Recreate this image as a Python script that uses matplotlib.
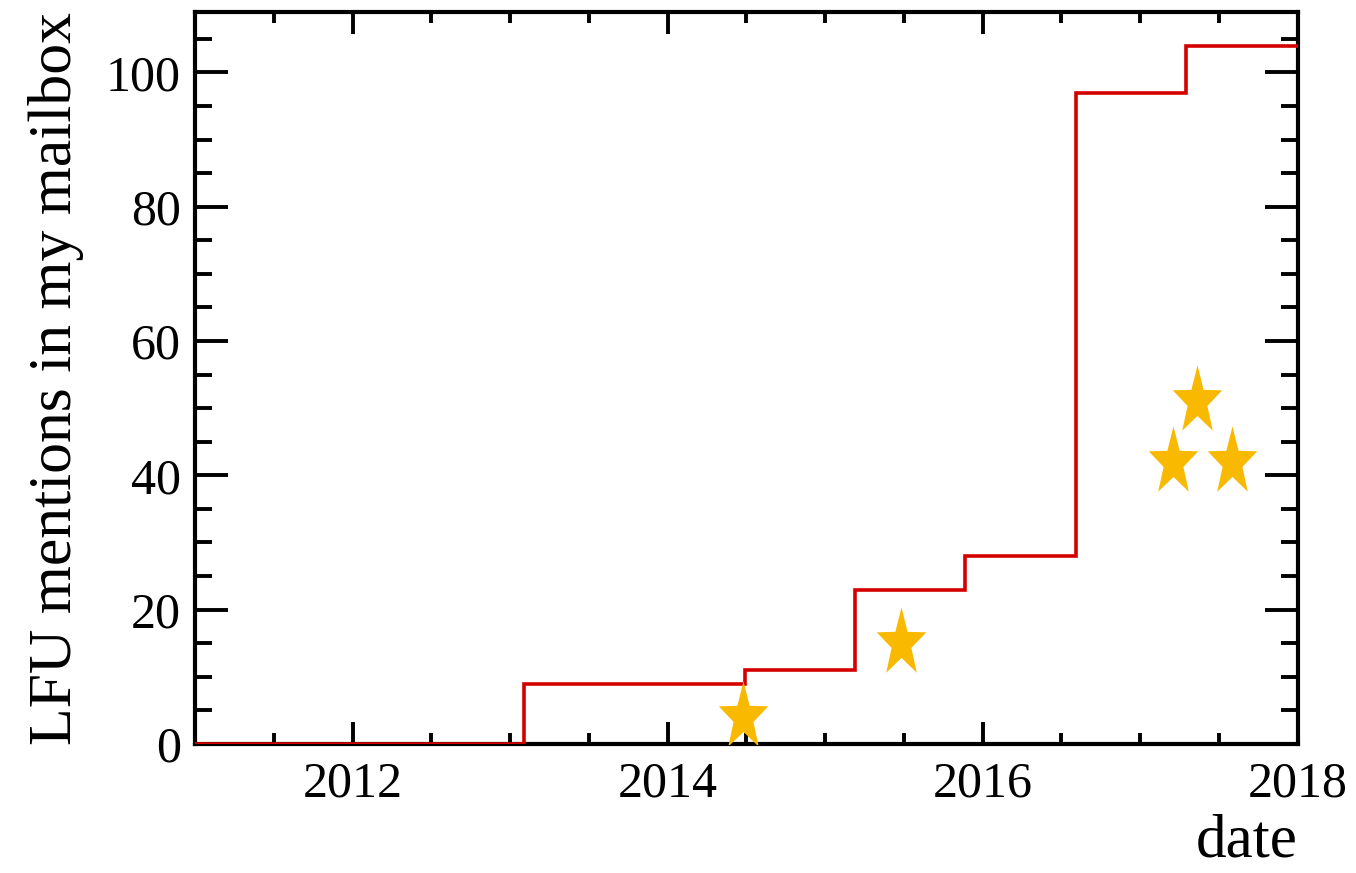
import numpy as np
import matplotlib
matplotlib.use('Agg')
import matplotlib.pyplot as plt
from matplotlib.path import Path
from matplotlib.ticker import MultipleLocator

# cumulative mentions, piecewise constant between these dates
edges = [2011.0, 2013.09, 2014.49, 2015.19, 2015.89, 2016.59, 2017.29, 2018.0]
mentions = [0, 9, 11, 23, 28, 97, 104]

# individual results marked with stars
star_dates = [2014.48, 2015.48, 2017.21, 2017.36, 2017.58]
star_values = [4, 15, 42, 51, 42]

plt.rcParams['font.family'] = ['Liberation Serif', 'DejaVu Serif']

# slim five-pointed star
ang = np.pi / 2 + np.arange(10) * np.pi / 5
rad = np.where(np.arange(10) % 2 == 0, 1.0, 0.40)
verts = np.column_stack([0.72 * rad * np.cos(ang), rad * np.sin(ang)])
verts = np.vstack([verts, verts[:1]])
star = Path(verts, closed=True)

fig = plt.figure(figsize=(13.56, 8.73), dpi=100)
ax = fig.add_axes([0.1438, 0.1478, 0.957 - 0.1438, 0.9863 - 0.1478])

ax.stairs(mentions, edges, baseline=None, color='#d40000', linewidth=2.6, zorder=3)
ax.plot(star_dates, star_values, linestyle='none', marker=star, markersize=52,
        color='#f8b900', markeredgewidth=0, zorder=4)

ax.set_xlim(2011, 2018)
ax.set_ylim(0, 109)
ax.xaxis.set_major_locator(MultipleLocator(2))
ax.xaxis.set_minor_locator(MultipleLocator(0.5))
ax.yaxis.set_major_locator(MultipleLocator(20))
ax.yaxis.set_minor_locator(MultipleLocator(5))

for s in ax.spines.values():
    s.set_linewidth(3)
ax.tick_params(axis='both', which='both', direction='in', top=True, right=True,
               width=2.8, labelsize=36)
ax.tick_params(axis='x', which='major', length=16, pad=12)
ax.tick_params(axis='x', which='minor', length=8)
ax.tick_params(axis='y', which='major', length=24, pad=10)
ax.tick_params(axis='y', which='minor', length=12)

ax.set_xlabel('date', fontsize=44, loc='right', labelpad=5)
ax.set_ylabel('LFU mentions in my mailbox', fontsize=44.5, loc='top', labelpad=16)

fig.savefig('out.png', dpi=100)
